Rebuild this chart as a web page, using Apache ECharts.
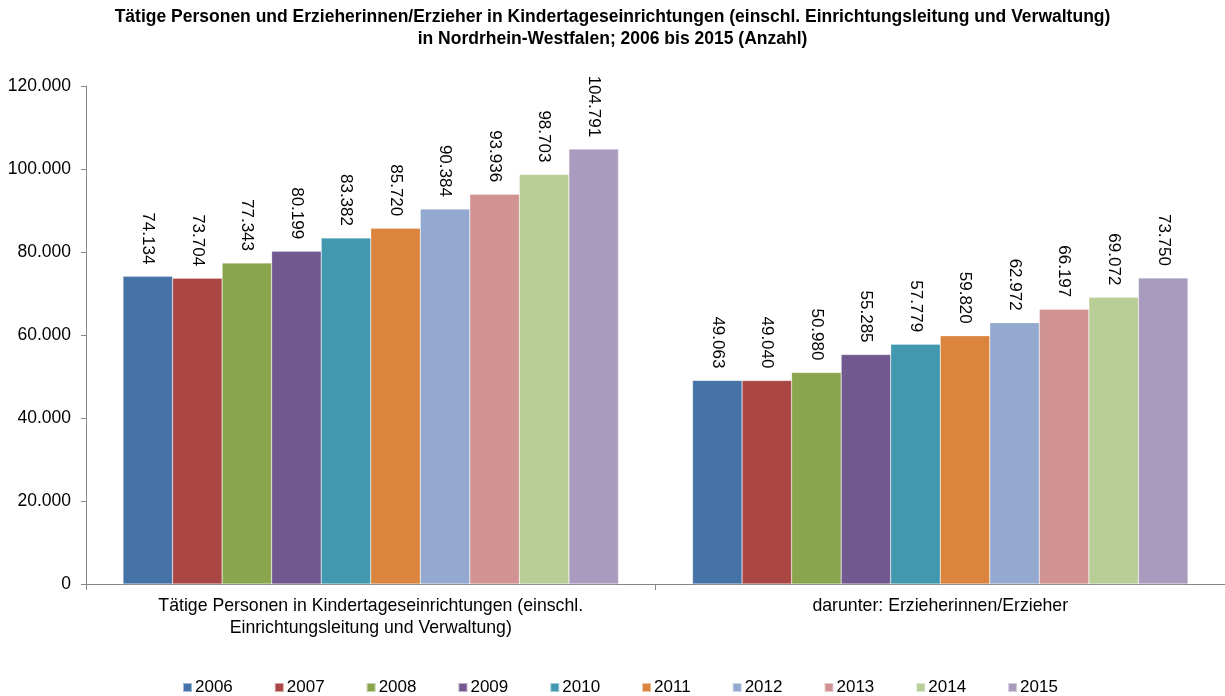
<!DOCTYPE html>
<html>
<head>
<meta charset="utf-8">
<script src="https://cdn.jsdelivr.net/npm/echarts@6/dist/echarts.min.js"></script>
<style>
  html, body { margin: 0; padding: 0; background: #fff; }
  #chart { width: 1225px; height: 696px; }
</style>
</head>
<body>
<div id="chart"></div>
<script>
const categories = [
  'Tätige Personen in Kindertageseinrichtungen (einschl.\nEinrichtungsleitung und Verwaltung)',
  'darunter: Erzieherinnen/Erzieher'
]
const years = ['2006', '2007', '2008', '2009', '2010', '2011', '2012', '2013', '2014', '2015']
const taetigePersonen = [74134, 73704, 77343, 80199, 83382, 85720, 90384, 93936, 98703, 104791]
const erzieher = [49063, 49040, 50980, 55285, 57779, 59820, 62972, 66197, 69072, 73750]
const colors = ['#4572A7', '#AA4643', '#89A54E', '#71588F', '#4198AF',
  '#DB843D', '#93A9CF', '#D19392', '#B9CD96', '#A99BBD']

const fmt = v => String(v).replace(/\B(?=(\d{3})+(?!\d))/g, '.')
const font = '"Liberation Sans", Arial, sans-serif'

let chart = echarts.init(document.getElementById('chart'), null, { renderer: 'canvas' })

const series = years.map((y, i) => ({
  name: y,
  type: 'bar',
  barGap: '0%',
  barCategoryGap: '13%',
  itemStyle: { color: colors[i], borderColor: 'rgba(255,255,255,0.5)', borderWidth: 0.5 },
  label: {
    show: true,
    position: 'top',
    rotate: -90,
    align: 'right',
    verticalAlign: 'middle',
    distance: 12,
    color: '#000',
    fontFamily: font,
    fontSize: 17,
    formatter: p => fmt(p.value)
  },
  data: [taetigePersonen[i], erzieher[i]]
}))

chart.setOption({
  animation: false,
  color: colors,
  title: {
    text: 'Tätige Personen und Erzieherinnen/Erzieher in Kindertageseinrichtungen (einschl. Einrichtungsleitung und Verwaltung)\nin Nordrhein-Westfalen; 2006 bis 2015 (Anzahl)',
    left: 'center',
    top: 6,
    padding: 0,
    textStyle: {
      fontFamily: font,
      fontSize: 17.5,
      fontWeight: 'bold',
      color: '#000',
      lineHeight: 22
    }
  },
  legend: {
    data: years,
    top: 679,
    left: 182,
    padding: 0,
    itemWidth: 9,
    itemHeight: 9,
    itemGap: 41,
    icon: 'rect',
    textStyle: { fontFamily: font, fontSize: 17, color: '#000', padding: [0, 0, 0, -2] }
  },
  grid: { left: 86, right: -6, top: 86, bottom: 112, containLabel: false },
  xAxis: {
    type: 'category',
    data: categories,
    axisLine: { lineStyle: { color: '#868686', width: 1 } },
    axisTick: { show: true, length: 6, lineStyle: { color: '#868686' } },
    axisLabel: {
      fontFamily: font,
      fontSize: 17.7,
      color: '#000',
      lineHeight: 22,
      margin: 11
    }
  },
  yAxis: {
    type: 'value',
    min: 0,
    max: 120000,
    interval: 20000,
    splitLine: { show: false },
    axisLine: { show: true, lineStyle: { color: '#868686', width: 1 } },
    axisTick: { show: true, length: 5, lineStyle: { color: '#868686' } },
    axisLabel: {
      fontFamily: font,
      fontSize: 17.5,
      color: '#000',
      margin: 15,
      formatter: v => fmt(v)
    }
  },
  series: series
})
</script>
</body>
</html>
